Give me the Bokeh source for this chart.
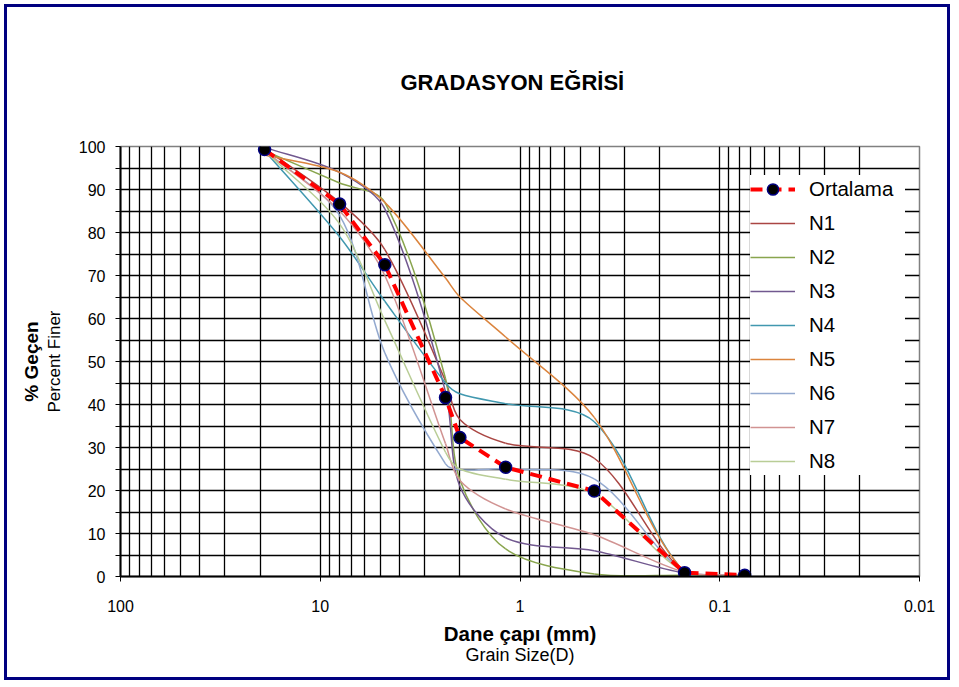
import numpy as np
from bokeh.plotting import figure
from bokeh.models import Range1d, FixedTicker, LogAxis, LinearAxis, Legend, LegendItem
from bokeh.embed import file_html
from bokeh.resources import INLINE

# ---------------- data ----------------
sizes_mm = [19, 8, 4.75, 2.36, 2.0, 1.18, 0.425, 0.15, 0.075]
ortalama = [99.3, 86.6, 72.5, 41.6, 32.3, 25.4, 19.9, 0.9, 0.3]
n1 = [99.5, 87.0, 76.0, 45.5, 36.5, 31.0, 27.5, 1.0, 0.2]
n2 = [99.0, 91.5, 87.0, 46.0, 22.5, 6.4, 0.6, 0.3, 0.1]
n3 = [99.8, 94.0, 85.5, 43.0, 21.0, 9.0, 6.0, 0.8, 0.2]
n4 = [99.0, 79.0, 64.0, 45.0, 42.5, 40.2, 36.0, 1.0, 0.3]
n5 = [98.0, 94.0, 87.0, 69.4, 65.0, 55.7, 37.0, 1.0, 0.3]
n6 = [99.0, 84.0, 52.0, 26.2, 24.8, 25.0, 22.7, 1.0, 0.3]
n7 = [99.0, 85.0, 70.0, 30.9, 22.3, 15.7, 9.7, 1.0, 0.3]
n8 = [99.0, 82.0, 59.5, 28.9, 25.0, 22.6, 19.2, 1.0, 0.3]
series_names = ["N1", "N2", "N3", "N4", "N5", "N6", "N7", "N8"]
series_values = [n1, n2, n3, n4, n5, n6, n7, n8]
series_colors = ["#AA4643", "#89A54E", "#71588F", "#4198AF",
                 "#DB843D", "#93A9CF", "#D19392", "#B9CD96"]

x_major = [100, 10, 1, 0.1, 0.01]
x_major_labels = {100: "100", 10: "10", 1: "1", 0.1: "0.1", 0.01: "0.01"}
x_minor = [m * 10.0 ** e for e in range(-2, 2) for m in range(2, 10)]
y_major = list(range(0, 101, 10))
y_minor = list(range(5, 100, 10))

FONT = "Liberation Sans"
FW, FH = 799, 430

p = figure(width=946, height=676, x_axis_type="log",
           x_range=Range1d(100, 0.01), y_range=Range1d(0, 100),
           output_backend="svg", toolbar_location=None,
           min_border_left=113, min_border_right=34,
           min_border_top=139, min_border_bottom=107)
p.styles = {"border": "3px solid #000080", "margin": "4px 0 0 4px"}
p.background_fill_color = "white"
p.border_fill_color = "white"
p.outline_line_color = "#808080"
p.outline_line_width = 1.5

# title
p.title.text = "GRADASYON EĞRİSİ"
p.title.align = "left"
p.title.offset = 280
p.title.text_font = FONT
p.title.text_font_size = "22px"
p.title.text_font_style = "bold"
p.title.text_color = "black"
p.title.standoff = 104

# axes
xa = p.xaxis[0]
xa.ticker = FixedTicker(ticks=x_major, minor_ticks=x_minor)
xa.major_label_overrides = x_major_labels
xa.axis_line_color = "black"
xa.axis_line_width = 2
xa.major_tick_line_color = "black"
xa.major_tick_out = 5
xa.major_tick_in = 0
xa.minor_tick_line_color = "black"
xa.minor_tick_out = 0
xa.minor_tick_in = 4
xa.major_label_standoff = 18
xa.major_label_text_font = FONT
xa.major_label_text_font_size = "16px"
xa.major_label_text_color = "black"
xa.axis_label = "Dane çapı (mm)"
xa.axis_label_text_font = FONT
xa.axis_label_text_font_size = "20.5px"
xa.axis_label_text_font_style = "bold"
xa.axis_label_text_color = "black"
xa.axis_label_standoff = 7

ya = p.yaxis[0]
ya.ticker = FixedTicker(ticks=y_major, minor_ticks=y_minor)
ya.axis_line_color = "black"
ya.axis_line_width = 2
ya.major_tick_line_color = "black"
ya.major_tick_out = 5
ya.major_tick_in = 0
ya.minor_tick_line_color = "black"
ya.minor_tick_out = 5
ya.minor_tick_in = 0
ya.major_label_standoff = 10
ya.major_label_text_font = FONT
ya.major_label_text_font_size = "16px"
ya.major_label_text_color = "black"
ya.axis_label = "Percent Finer"
ya.axis_label_text_font = FONT
ya.axis_label_text_font_size = "17px"
ya.axis_label_text_font_style = "normal"
ya.axis_label_text_color = "black"
ya.axis_label_standoff = 12

xa2 = LogAxis(ticker=FixedTicker(ticks=[]), axis_label="Grain Size(D)",
              axis_line_color=None, major_tick_line_color=None,
              minor_tick_line_color=None, major_label_text_font_size="0px",
              axis_label_standoff=-3, axis_label_text_font=FONT,
              axis_label_text_color="black",
              axis_label_text_font_size="18px", axis_label_text_font_style="normal")
p.add_layout(xa2, "below")
ya2 = LinearAxis(ticker=FixedTicker(ticks=[]), axis_label="% Geçen",
                 axis_line_color=None, major_tick_line_color=None,
                 minor_tick_line_color=None, major_label_text_font_size="0px",
                 axis_label_standoff=0, axis_label_text_font=FONT,
                 axis_label_text_color="black",
                 axis_label_text_font_size="19px", axis_label_text_font_style="bold")
p.add_layout(ya2, "left")

# grids
for g in (p.xgrid[0], p.ygrid[0]):
    g.grid_line_color = "black"
    g.grid_line_width = 1.3
    g.minor_grid_line_color = "black"
    g.minor_grid_line_width = 1.3

# smoothed curve (Excel-like bezier smoothing through the data points)
def smooth(xs, ys, k=0.3):
    ax = FW / 4.0
    ay = FH / 100.0
    P = np.column_stack([np.log10(xs) * ax, np.asarray(ys, float) * ay])
    n = len(P)
    U = []
    for i in range(n):
        v = P[min(i + 1, n - 1)] - P[max(i - 1, 0)]
        U.append(v / np.hypot(*v))
    out = {k_: [] for k_ in ("x0", "y0", "x1", "y1", "cx0", "cy0", "cx1", "cy1")}
    for i in range(n - 1):
        d = np.hypot(*(P[i + 1] - P[i]))
        c0 = P[i] + U[i] * d * k
        c1 = P[i + 1] - U[i + 1] * d * k
        for key, pt in (("0", P[i]), ("1", P[i + 1])):
            out["x" + key].append(10 ** (pt[0] / ax))
            out["y" + key].append(pt[1] / ay)
        out["cx0"].append(10 ** (c0[0] / ax)); out["cy0"].append(c0[1] / ay)
        out["cx1"].append(10 ** (c1[0] / ax)); out["cy1"].append(c1[1] / ay)
    return out

items = []
curve_renderers = []
for name, vals, col in zip(series_names, series_values, series_colors):
    b = smooth(sizes_mm, vals)
    r = p.bezier(x0=b["x0"], y0=b["y0"], x1=b["x1"], y1=b["y1"],
                 cx0=b["cx0"], cy0=b["cy0"], cx1=b["cx1"], cy1=b["cy1"],
                 line_color=col, line_width=1.5)
    curve_renderers.append((name, r))

avg_line = p.line(sizes_mm, ortalama, line_color="#FF0000", line_width=4,
                  line_dash="12 7")
avg_pts = p.scatter(sizes_mm, ortalama, size=12, fill_color="black",
                    line_color="#000080", line_width=1.5)

items.append(LegendItem(label="Ortalama", renderers=[avg_line, avg_pts]))
for name, r in curve_renderers:
    items.append(LegendItem(label=name, renderers=[r]))

legend = Legend(items=items, location=(630, 101))
legend.label_text_font = FONT
legend.label_text_font_size = "20.5px"
legend.label_text_color = "black"
legend.glyph_width = 45
legend.glyph_height = 28
legend.label_height = 28
legend.label_width = 96
legend.spacing = 6
legend.padding = 6
legend.margin = 0
legend.label_standoff = 14
legend.border_line_color = None
legend.background_fill_color = "white"
legend.background_fill_alpha = 1.0
p.add_layout(legend)

open("out.html", "w").write(file_html(p, INLINE))
